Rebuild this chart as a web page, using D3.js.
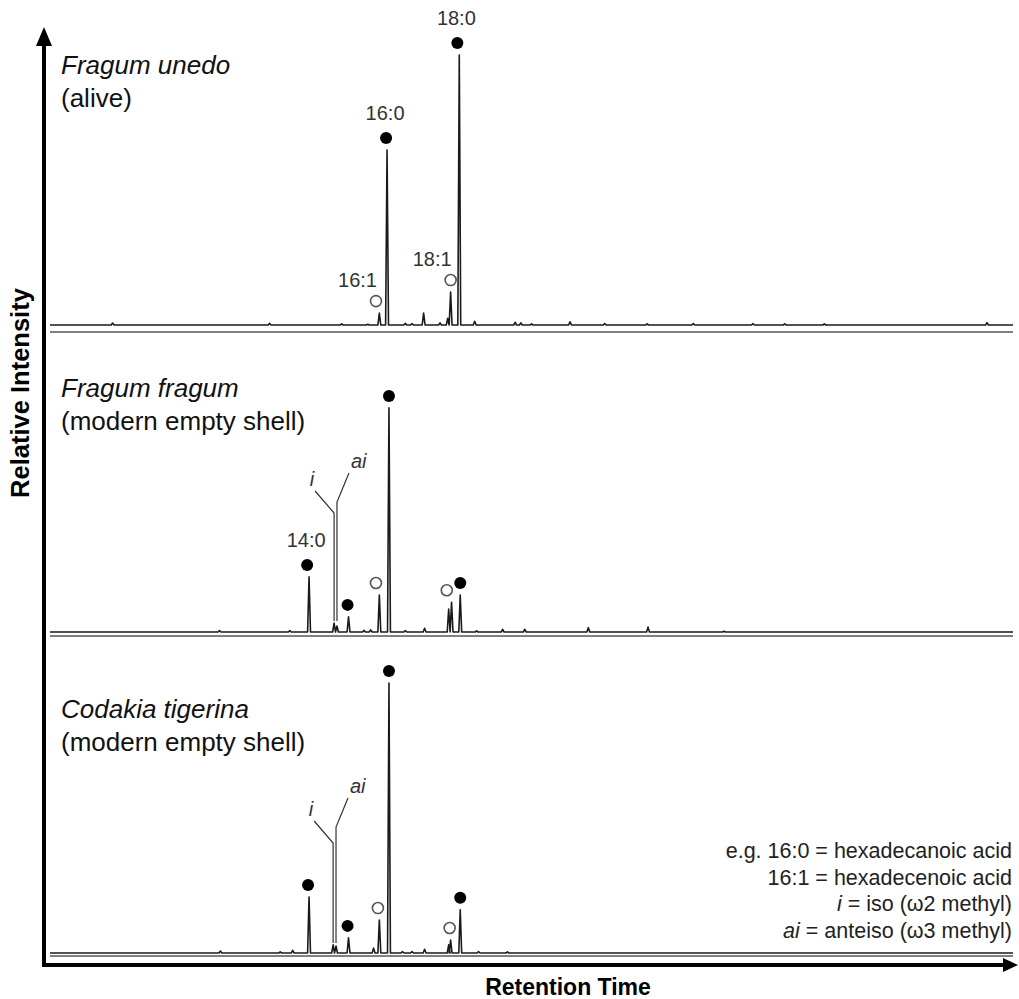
<!DOCTYPE html>
<html>
<head>
<meta charset="utf-8">
<script src="https://cdn.jsdelivr.net/npm/d3@7"></script>
<style>
  body { margin: 0; background: #fff; }
  text { font-family: "Liberation Sans", Arial, sans-serif; }
</style>
</head>
<body>
<div id="canvas"></div>
<script>
"use strict"

/* Drawing size */
let svgWidth = 1019;
let svgHeight = 999;

/* Data: retention time (arbitrary units 0-100) and relative peak height (%) */
let rtDomain = [0, 100];

let speciesNames = ["Fragum unedo", "Fragum fragum", "Codakia tigerina"];
let speciesNotes = ["(alive)", "(modern empty shell)", "(modern empty shell)"];

/* peaks: [retention time, relative height] */
let unedoPeaks = [[6.5, 0.7], [22.8, 0.6], [30.3, 0.4], [33.0, 0.3], [34.2, 4.4], [35.0, 64.8],
                  [36.9, 0.6], [37.6, 0.5], [38.8, 4.4], [40.5, 0.8], [41.3, 2.5], [41.6, 12.2],
                  [42.5, 100], [44.1, 1.4], [48.3, 1.0], [48.9, 0.8], [50.0, 0.4], [54.0, 1.2],
                  [57.6, 0.5], [62.0, 0.4], [66.8, 0.5], [73.0, 0.5], [76.3, 0.4], [80.4, 0.4],
                  [97.3, 0.9]];
let fragumPeaks = [[17.6, 0.5], [24.9, 0.5], [26.9, 20.4], [29.5, 3.3], [29.8, 2.2], [31.0, 5.6],
                   [32.6, 0.6], [33.3, 0.8], [34.2, 13.7], [35.2, 83], [36.9, 0.5], [38.9, 1.4],
                   [41.4, 8.5], [41.7, 11], [42.6, 13.7], [44.3, 0.4], [47.0, 1.0], [49.3, 1.0],
                   [55.9, 1.6], [62.1, 1.8], [70.0, 0.3]];
let codakiaPeaks = [[17.7, 0.7], [23.9, 0.4], [25.2, 1.0], [26.9, 20.7], [29.4, 3.0], [29.7, 2.6],
                    [31.0, 5.6], [33.6, 1.8], [34.2, 12.2], [35.2, 100], [36.6, 0.5], [37.6, 0.5],
                    [38.9, 1.4], [41.4, 3.0], [41.6, 4.8], [42.6, 16], [44.5, 0.5], [47.5, 0.4]];

/* markers: [retention time, kind]  sat = filled, unsat = open */
let unedoMarkers = [[33.85, "unsat"], [34.9, "sat"], [41.6, "unsat"], [42.3, "sat"]];
let fragumMarkers = [[26.7, "sat"], [30.9, "sat"], [33.85, "unsat"], [35.2, "sat"], [41.2, "unsat"], [42.6, "sat"]];
let codakiaMarkers = [[26.8, "sat"], [30.9, "sat"], [34.05, "unsat"], [35.2, "sat"], [41.5, "unsat"], [42.6, "sat"]];

/* compound labels: [retention time of marker, text] */
let unedoLabels = [[33.85, "16:1"], [34.9, "16:0"], [41.6, "18:1"], [42.3, "18:0"]];
let fragumLabels = [[26.7, "14:0"]];
let codakiaLabels = [];

/* branched peaks: [retention time, label] */
let fragumBranches = [[29.5, "i"], [29.8, "ai"]];
let codakiaBranches = [[29.4, "i"], [29.7, "ai"]];

let legendLines = [
    [["e.g. 16:0 = hexadecanoic acid", false]],
    [["16:1 = hexadecenoic acid", false]],
    [["i", true], [" = iso (\u03c92 methyl)", false]],
    [["ai", true], [" = anteiso (\u03c93 methyl)", false]]
];

/* Layout */
let panels = [
    {peaks: unedoPeaks, markers: unedoMarkers, labels: unedoLabels, branches: [],
     base: 325, sep: 7, titleY: 74, rise: []},
    {peaks: fragumPeaks, markers: fragumMarkers, labels: fragumLabels, branches: fragumBranches,
     base: 632, sep: 4, titleY: 397, rise: [119, 130]},
    {peaks: codakiaPeaks, markers: codakiaMarkers, labels: codakiaLabels, branches: codakiaBranches,
     base: 953, sep: 3, titleY: 718, rise: [110, 126]}
];
let panelHeight = 270;
let peakHalfWidth = 0.15;

let svg = d3.select("#canvas")
    .append("svg")
    .attr("width", svgWidth)
    .attr("height", svgHeight);

let xScale = d3.scaleLinear()
    .domain(rtDomain)
    .range([50, 1013]);

function heightAt(peaks, t) {
    let near = peaks.filter(p => Math.abs(p[0] - t) <= 0.6);
    return d3.max(near, p => p[1]) || 0;
}

panels.forEach(function (panel, i) {
    let yScale = d3.scaleLinear()
        .domain([0, 100])
        .range([panel.base, panel.base - panelHeight]);

    /* trace points: baseline with narrow triangular peaks */
    let pts = [[rtDomain[0], 0]];
    panel.peaks.slice().sort((a, b) => a[0] - b[0]).forEach(function (p) {
        pts.push([p[0] - peakHalfWidth, 0], [p[0], p[1]], [p[0] + peakHalfWidth, 0]);
    });
    pts.push([rtDomain[1], 0]);

    let line = d3.line()
        .x(d => xScale(d[0]))
        .y(d => yScale(d[1]));

    /* grey separator under trace */
    svg.append("line")
        .attr("x1", xScale(rtDomain[0]))
        .attr("x2", xScale(rtDomain[1]))
        .attr("y1", panel.base + panel.sep)
        .attr("y2", panel.base + panel.sep)
        .attr("stroke", "#808080")
        .attr("stroke-width", 2.2);

    svg.append("path")
        .attr("d", line(pts))
        .attr("fill", "none")
        .attr("stroke", "#1a1a1a")
        .attr("stroke-width", 1.6)
        .attr("stroke-linejoin", "round");

    /* markers */
    panel.markers.forEach(function (m) {
        let cy = yScale(heightAt(panel.peaks, m[0])) - 12;
        svg.append("circle")
            .attr("cx", xScale(m[0]))
            .attr("cy", cy)
            .attr("r", m[1] === "sat" ? 6 : 5.5)
            .attr("fill", m[1] === "sat" ? "#000" : "#fff")
            .attr("stroke", m[1] === "sat" ? "none" : "#555")
            .attr("stroke-width", 1.6);
    });

    /* compound labels above markers */
    panel.labels.forEach(function (l) {
        let cy = yScale(heightAt(panel.peaks, l[0])) - 12;
        let unsat = l[1].endsWith(":1");
        svg.append("text")
            .attr("x", xScale(l[0]) + (unsat ? 1 : -1))
            .attr("y", cy - (unsat ? 14 : 18))
            .attr("text-anchor", unsat ? "end" : "middle")
            .attr("font-size", 20)
            .attr("fill", "#333")
            .text(l[1]);
    });

    /* iso / anteiso leaders */
    panel.branches.forEach(function (b, k) {
        let x = xScale(b[0]);
        let top = panel.base - panel.rise[k];
        let dx = k === 0 ? -19 : 12;
        let dy = k === 0 ? -22 : -29;
        svg.append("path")
            .attr("d", "M" + x + "," + (yScale(heightAt(panel.peaks, b[0])) - 2) +
                  "L" + x + "," + top + "L" + (x + dx) + "," + (top + dy))
            .attr("fill", "none")
            .attr("stroke", "#333")
            .attr("stroke-width", 1.2);
        svg.append("text")
            .attr("x", x + dx + (k === 0 ? -1 : 2))
            .attr("y", top + dy - 5)
            .attr("text-anchor", k === 0 ? "end" : "start")
            .attr("font-size", 20)
            .attr("font-style", "italic")
            .attr("fill", "#333")
            .text(b[1]);
    });

    /* species title */
    svg.append("text")
        .attr("x", 61)
        .attr("y", panel.titleY)
        .attr("font-size", 26)
        .attr("font-style", "italic")
        .attr("fill", "#111")
        .text(speciesNames[i]);
    svg.append("text")
        .attr("x", 61)
        .attr("y", panel.titleY + 33)
        .attr("font-size", 26)
        .attr("fill", "#111")
        .text(speciesNotes[i]);
});

/**** axes ****/
svg.append("line")
    .attr("x1", 44).attr("x2", 44)
    .attr("y1", 965).attr("y2", 40)
    .attr("stroke", "#000")
    .attr("stroke-width", 4);
svg.append("path")
    .attr("d", "M44,27L36,46L52,46Z")
    .attr("fill", "#000");

svg.append("line")
    .attr("x1", 42).attr("x2", 1006)
    .attr("y1", 965).attr("y2", 965)
    .attr("stroke", "#000")
    .attr("stroke-width", 4);
svg.append("path")
    .attr("d", "M1018,965L1003,958L1003,972Z")
    .attr("fill", "#000");

svg.append("text")
    .attr("transform", "translate(29,393) rotate(-90)")
    .attr("text-anchor", "middle")
    .attr("font-size", 25.5)
    .attr("font-weight", "bold")
    .text("Relative Intensity");

svg.append("text")
    .attr("x", 568)
    .attr("y", 995)
    .attr("text-anchor", "middle")
    .attr("font-size", 23)
    .attr("font-weight", "bold")
    .text("Retention Time");

/**** legend ****/
legendLines.forEach(function (parts, i) {
    let t = svg.append("text")
        .attr("x", 1012)
        .attr("y", 858 + i * 26.7)
        .attr("text-anchor", "end")
        .attr("font-size", 21.5)
        .attr("fill", "#222");
    parts.forEach(function (p) {
        t.append("tspan")
            .attr("font-style", p[1] ? "italic" : "normal")
            .text(p[0]);
    });
});
</script>
</body>
</html>
